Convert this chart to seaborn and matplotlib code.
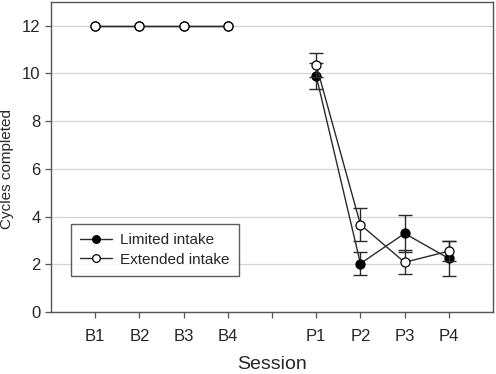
import pandas as pd
import matplotlib.pyplot as plt
import seaborn as sns

# Data
sessions = ["B1", "B2", "B3", "B4", "", "P1", "P2", "P3", "P4"]
positions = [1, 2, 3, 4, 5, 6, 7, 8, 9]

base_sessions = ["B1", "B2", "B3", "B4"]
post_sessions = ["P1", "P2", "P3", "P4"]

limited_base = [12, 12, 12, 12]
extended_base = [12, 12, 12, 12]

limited_post = [9.89, 2.03, 3.29, 2.24]
limited_err = [0.55, 0.49, 0.77, 0.74]
extended_post = [10.35, 3.66, 2.08, 2.55]
extended_err = [0.49, 0.68, 0.50, 0.42]

pos_of = {s: p for s, p in zip(sessions, positions)}

rows = []
for grp, base, post, err in [("Limited intake", limited_base, limited_post, limited_err),
                             ("Extended intake", extended_base, extended_post, extended_err)]:
    for s, v in zip(base_sessions, base):
        rows.append({"group": grp, "phase": "base", "pos": pos_of[s], "value": v, "err": 0.0})
    for s, v, e in zip(post_sessions, post, err):
        rows.append({"group": grp, "phase": "post", "pos": pos_of[s], "value": v, "err": e})
df = pd.DataFrame(rows)

sns.set_style("white")
plt.rcParams["font.family"] = ["Liberation Sans", "DejaVu Sans"]

fig, ax = plt.subplots(figsize=(4.96, 3.74), dpi=100)
fig.subplots_adjust(left=0.103, right=0.994, top=0.995, bottom=0.166)

line_col = "#2b2b2b"
styles = {
    "Limited intake": dict(markerfacecolor="black", z=3),
    "Extended intake": dict(markerfacecolor="white", z=4),
}

for grp in ["Limited intake", "Extended intake"]:
    sub = df[df["group"] == grp]
    post = sub[sub["phase"] == "post"]
    ax.errorbar(post["pos"], post["value"], yerr=post["err"], fmt="none",
                ecolor=line_col, elinewidth=1.0, capsize=5, capthick=1.0,
                zorder=styles[grp]["z"] - 1)
    sns.lineplot(data=sub, x="pos", y="value", units="phase", estimator=None,
                 color=line_col, linewidth=1.0, marker="o", markersize=6.5,
                 markerfacecolor=styles[grp]["markerfacecolor"],
                 markeredgecolor="black", markeredgewidth=0.9,
                 label=grp, ax=ax, zorder=styles[grp]["z"], legend=False)

ax.set_xlim(0, 10)
ax.set_ylim(0, 13)
ax.set_xticks(positions)
ax.set_xticklabels(sessions, fontsize=12)
ax.set_yticks([0, 2, 4, 6, 8, 10, 12])
ax.tick_params(axis="y", labelsize=12)
ax.tick_params(axis="x", pad=8)
ax.tick_params(axis="both", direction="out", length=4, width=0.9,
               color="#555555", bottom=True, left=True)
ax.yaxis.grid(True, color="#d4d4d4", linewidth=0.9)
ax.set_axisbelow(True)
for sp in ax.spines.values():
    sp.set_color("#555555")
    sp.set_linewidth(1.0)

ax.set_xlabel("Session", fontsize=14, labelpad=9)
ax.set_ylabel("Cycles completed", fontsize=11)
ax.yaxis.set_label_coords(-0.085, 0.46)

# one legend entry per group
handles, labels = ax.get_legend_handles_labels()
seen = {}
for h, l in zip(handles, labels):
    if l not in seen:
        seen[l] = h
leg = ax.legend(list(seen.values()), list(seen.keys()),
                loc="lower left", bbox_to_anchor=(0.045, 0.116), borderaxespad=0,
                fontsize=11, frameon=True, fancybox=False, edgecolor="#333333",
                handlelength=2.1, borderpad=0.6, labelspacing=0.35, handletextpad=0.5,
                markerscale=0.85)
leg.get_frame().set_linewidth(1.0)

plt.savefig("out.png", dpi=100)
